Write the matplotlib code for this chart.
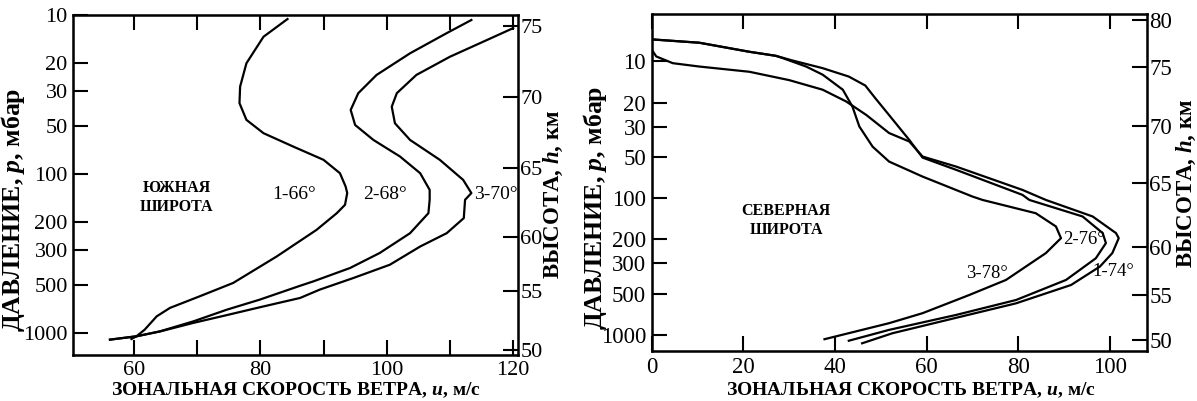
import matplotlib
matplotlib.use('Agg')
from matplotlib import pyplot as plt
from matplotlib.ticker import NullLocator

plt.rcParams['font.family'] = 'Liberation Serif'
plt.rcParams['mathtext.fontset'] = 'custom'
plt.rcParams['mathtext.rm'] = 'Liberation Serif:bold'
plt.rcParams['mathtext.it'] = 'Liberation Serif:italic:bold'

# Southern latitude (left panel): zonal wind u (m/s) vs pressure p (mbar)
s_u1 = [84.3, 80.5, 77.8, 76.8, 76.7, 77.8, 80.5, 85.2, 90.0, 92.6, 93.5, 93.75,
        93.4, 92.1, 88.9, 82.6, 75.7, 70.4, 65.7, 63.6, 61.7, 60.4, 59.6]
s_p1 = [10.6, 13.7, 20.1, 28.2, 35.8, 45.6, 55.3, 67.1, 81.3, 98.7, 119.7, 131.6,
        156, 176, 224, 329, 483, 586, 693, 783, 949, 1045, 1087]
s_u2 = [113.4, 109.5, 103.7, 98.4, 95.5, 94.3, 95.0, 97.9, 102.1, 105.3, 106.8,
        106.8, 106.6, 103.7, 98.9, 94.2, 88.4, 86.3, 79.9, 74.7, 69.4, 64.1, 60.4, 56.2]
s_p2 = [10.75, 13.0, 17.4, 23.8, 31.0, 39.5, 49.1, 61, 77.5, 98.7, 125.6,
        145, 176, 235, 313, 389, 472, 503, 615, 711, 842, 973, 1045, 1097]
s_u3 = [120.0, 115.8, 110.0, 104.7, 101.6, 100.8, 101.3, 103.7, 108.4, 112.1, 113.4,
        112.4, 112.2, 109.5, 105.3, 100.5, 94.7, 89.4, 86.3, 79.9, 74.7, 69.4, 64.1, 60.4, 56.2]
s_p3 = [12.1, 14.4, 18.3, 23.8, 31, 37.7, 47.9, 61, 81.3, 108.7, 131.6,
        145, 189, 235, 285, 371, 450, 532, 600, 687, 769, 861, 975, 1045, 1097]
s_names = ['1-66°', '2-68°', '3-70°']

# Northern latitude (right panel)
n_u1 = [0, 1.0, 4.6, 10.4, 21.3, 30.0, 37.3, 42.4, 46.8, 51.8, 56.2, 59.1, 66.4,
        80.9, 86.0, 96.2, 101.3, 101.9, 100.5, 97.8, 91.5, 79.5, 66.0, 52.5, 45.9]
n_p1 = [8.2, 9.2, 10.3, 10.9, 11.9, 13.7, 16.1, 19.6, 24.6, 33.4, 38.5, 49.6, 58.7,
        87, 103, 136, 180, 196, 252, 316, 431, 587, 755, 972, 1151]
n_u2 = [0, 10.4, 21.3, 27.1, 30.5, 37.3, 43.0, 46.6, 48.8, 51.5, 56.2, 59.1, 66.4,
        80.9, 82.4, 94.0, 98.4, 99.1, 96.9, 90.4, 79.5, 66.4, 51.8, 43.0]
n_p2 = [6.9, 7.3, 8.5, 9.1, 9.8, 11.2, 12.9, 15.0, 18.6, 24.0, 37.5, 50.5, 62,
        94.6, 103, 136, 180, 213, 275, 396, 555, 714, 918, 1102]
n_u3 = [0, 10.4, 21.3, 27.1, 28.6, 33.7, 37.3, 41.7, 43.8, 45.3, 48.2, 51.8, 59.1,
        70.0, 72.2, 83.8, 88.2, 89.3, 86.0, 77.3, 69.3, 59.1, 51.8, 37.7]
n_p3 = [6.9, 7.3, 8.5, 9.1, 9.46, 10.9, 12.5, 16.1, 21.4, 29.9, 42, 54, 69.5,
        97.3, 103, 128.8, 161, 196, 252, 396, 510, 693, 820, 1074]
n_names = ['1-74°', '2-76°', '3-78°']

p_ticks = [10, 20, 30, 50, 100, 200, 300, 500, 1000]
s_u_ticks = [60, 80, 100, 120]
s_u_minor = [70, 90, 110]
n_u_ticks = [0, 20, 40, 60, 80, 100]

# height axis: heights (km) and the pressure level where each tick sits
h_ticks_s = [50, 55, 60, 65, 70, 75]
h_ticks_s_p = [1268, 546, 249, 92, 32.6, 11.8]
h_ticks_n = [50, 55, 60, 65, 70, 75, 80]
h_ticks_n_p = [1089, 510, 226, 76.9, 29.6, 10.9, 5.0]


def setup_axes(ax, ylim, xlim, xticks, xminor, fs):
    ax.set_yscale('log')
    ax.set_ylim(ylim)
    ax.set_xlim(xlim)
    ax.set_yticks(p_ticks)
    ax.set_yticklabels([str(p) for p in p_ticks])
    ax.yaxis.set_minor_locator(NullLocator())
    ax.set_xticks(xticks)
    ax.set_xticklabels([str(u) for u in xticks])
    ax.set_xticks(xminor, minor=True)
    ax.tick_params(axis='both', which='both', direction='in', length=11,
                   width=1.5, labelsize=fs, top=True, right=False, pad=4)
    for s in ax.spines.values():
        s.set_linewidth(1.8)


def add_height_axis(ax, ticks, ticks_p, fs):
    tw = ax.twinx()
    tw.set_yscale('log')
    tw.set_ylim(ax.get_ylim())
    tw.set_yticks(ticks_p)
    tw.set_yticklabels([str(h) for h in ticks])
    tw.yaxis.set_minor_locator(NullLocator())
    tw.tick_params(axis='y', direction='in', length=11, width=1.5,
                   labelsize=fs, pad=2)
    return tw


def main():
    fig = plt.figure(figsize=(11.97, 4.01), dpi=100)
    W, H = 1197.0, 401.0

    # ---- left panel: southern latitude
    ax1 = fig.add_axes([73.3 / W, (H - 355) / H, 444.2 / W, 340 / H])
    setup_axes(ax1, (1370, 10), (50.4, 120.7), s_u_ticks, s_u_minor, 16)
    for u, p in [(s_u1, s_p1), (s_u2, s_p2), (s_u3, s_p3)]:
        ax1.plot(u, p, color='black', lw=1.6, solid_joinstyle='round')
    add_height_axis(ax1, h_ticks_s, h_ticks_s_p, 16)

    ax1.text(66.8, 123, 'ЮЖНАЯ', fontsize=11.5, fontweight='bold',
             ha='center', va='center')
    ax1.text(66.8, 160, 'ШИРОТА', fontsize=11.5, fontweight='bold',
             ha='center', va='center')
    for x, name in zip([85.3, 99.8, 117.2], s_names):
        ax1.text(x, 135, name, fontsize=14, ha='center', va='center')

    # ---- right panel: northern latitude
    ax2 = fig.add_axes([651.7 / W, (H - 351) / H, 495 / W, 337 / H])
    setup_axes(ax2, (1310, 4.5), (0, 108), n_u_ticks, [], 16.5)
    for u, p in [(n_u1, n_p1), (n_u2, n_p2), (n_u3, n_p3)]:
        ax2.plot(u, p, color='black', lw=1.6, solid_joinstyle='round')
    add_height_axis(ax2, h_ticks_n, h_ticks_n_p, 16.5)

    ax2.text(29.3, 125, 'СЕВЕРНАЯ', fontsize=11.5, fontweight='bold',
             ha='center', va='center')
    ax2.text(29.3, 171, 'ШИРОТА', fontsize=11.5, fontweight='bold',
             ha='center', va='center')
    ax2.text(100.6, 344, n_names[0], fontsize=13.5, ha='center', va='center')
    ax2.text(94.4, 202, n_names[1], fontsize=13.5, ha='center', va='center')
    ax2.text(73.2, 354, n_names[2], fontsize=13.5, ha='center', va='center')

    # ---- axis titles
    xlab = 'ЗОНАЛЬНАЯ СКОРОСТЬ ВЕТРА, $u$, м/с'
    ylab = 'ДАВЛЕНИЕ, $p$, мбар'
    hlab = 'ВЫСОТА, $h$, км'
    fig.text(296 / W, 1 - 390 / H, xlab, fontsize=14, fontweight='bold',
             ha='center', va='center')
    fig.text(911 / W, 1 - 390 / H, xlab, fontsize=14, fontweight='bold',
             ha='center', va='center')
    fig.text(13 / W, 1 - 210 / H, ylab, fontsize=18.5, fontweight='bold',
             rotation=90, ha='center', va='center')
    fig.text(595 / W, 1 - 208 / H, ylab, fontsize=18.5, fontweight='bold',
             rotation=90, ha='center', va='center')
    fig.text(553 / W, 1 - 194 / H, hlab, fontsize=16.5, fontweight='bold',
             rotation=90, ha='center', va='center')
    fig.text(1186 / W, 1 - 183 / H, hlab, fontsize=16.5, fontweight='bold',
             rotation=90, ha='center', va='center')

    fig.savefig('out.png', dpi=100)


if __name__ == '__main__':
    main()
